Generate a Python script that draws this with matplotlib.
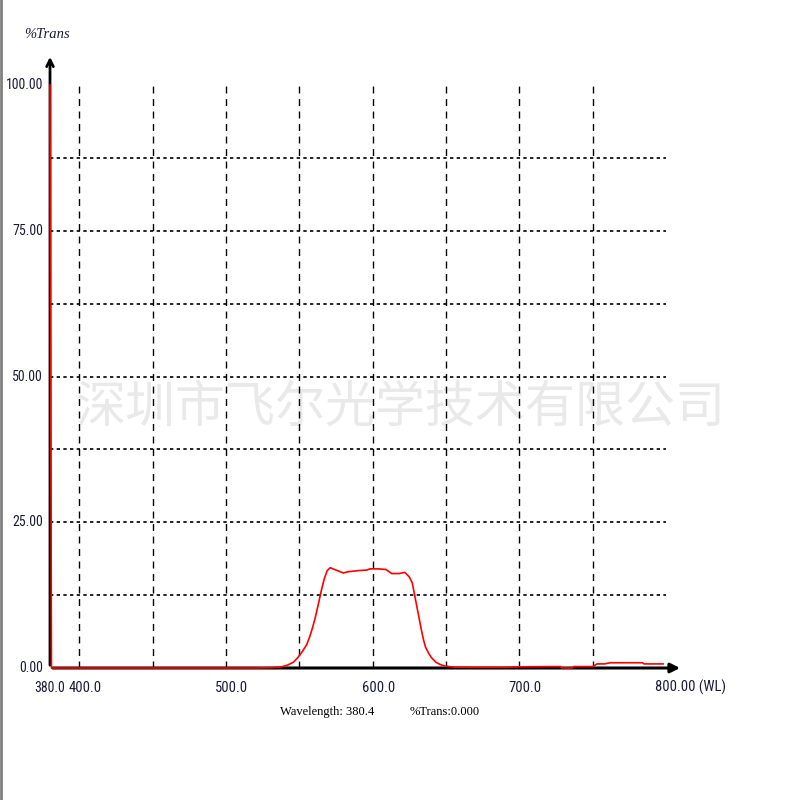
import numpy as np
import matplotlib
matplotlib.use('Agg')
import matplotlib.pyplot as plt
from matplotlib.lines import Line2D

# Curva de transmision
wl = [380, 381, 400, 450, 500, 520, 530, 538, 542, 546, 549, 552, 555, 557, 559, 561,
      563, 565, 567, 569, 571, 575, 580, 583, 590, 596, 598, 604, 609, 613, 618, 622,
      625, 627, 629, 631, 633, 634.5, 636, 638, 640, 643, 646, 649, 655, 670, 690, 700, 720, 728,
      729, 736, 737, 750, 753, 758, 762, 770, 784, 785, 790, 798]
trans = [100, 0, 0, 0, 0, 0, 0.05, 0.2, 0.5, 1.0, 1.8, 2.8, 4.0, 5.3, 6.9, 8.8,
         11.0, 13.3, 15.3, 16.7, 17.2, 16.8, 16.3, 16.5, 16.7, 16.8, 17.0, 17.0, 16.9, 16.2, 16.2, 16.4,
         15.6, 14.6, 12.0, 9.4, 6.8, 5.0, 3.6, 2.6, 1.8, 1.0, 0.6, 0.35, 0.15, 0.1, 0.1, 0.2, 0.25, 0.25,
         0.0, 0.0, 0.25, 0.25, 0.7, 0.7, 0.9, 0.9, 0.9, 0.7, 0.7, 0.7]

xticks = [380, 400, 500, 600, 700, 800]
xticklabels = ['380.0', '400.0', '500.0', '600.0', '700.0', '800.00 (WL)']
yticks = [0, 25, 50, 75, 100]
yticklabels = ['0.00', '25.00', '50.00', '75.00', '100.00']
vgrid = [400, 450, 500, 550, 600, 650, 700, 750]
hgrid = [12.5, 25, 37.5, 50, 62.5, 75, 87.5]

narrow = dict(family=['Roboto Condensed', 'DejaVu Sans'], stretch='condensed')
txtcol = '#1c1c3a'

fig = plt.figure(figsize=(8, 8), dpi=100)
fig.patch.set_facecolor('white')
ax = fig.add_axes([50/800, 1 - 668/800, 616/800, 583/800])
ax.set_facecolor('none')
ax.set_xlim(380, 800)
ax.set_ylim(0, 100)
for s in ax.spines.values():
    s.set_visible(False)
ax.set_xticks([])
ax.set_yticks([])

# marca de agua
ax.text(0.5, 1 - 408/800, '深圳市飞尔光学技术有限公司', transform=fig.transFigure,
        ha='center', va='center', fontsize=36, color='#e9e9e9',
        family=['Noto Sans CJK SC', 'DejaVu Sans'], zorder=0)

# rejilla
for x in vgrid:
    ax.plot([x, x], [0, 100], color='black', lw=1, ls=(0, (5, 4)), zorder=1)
for y in hgrid:
    ax.plot([380, 800], [y, y], color='black', lw=1.2, ls=(0, (2, 2)), zorder=1)

# ejes con flechas
ax.annotate('', xy=(811.5, 0), xytext=(380, 0), annotation_clip=False,
            arrowprops=dict(arrowstyle='-|>', color='black', lw=2.2, mutation_scale=14), zorder=2)
ax.annotate('', xy=(380, 105.3), xytext=(380, 0), annotation_clip=False,
            arrowprops=dict(arrowstyle='->', color='black', lw=2, mutation_scale=12), zorder=2)

ax.plot(wl, trans, color='#ff0000', lw=1.2, zorder=3, clip_on=False)

# etiquetas
for x, lab in zip(xticks, xticklabels):
    if lab.endswith('(WL)'):
        ax.text(x - 7.5, -3.4, lab, ha='left', va='center', fontsize=10.5, color=txtcol, **narrow)
    elif x == 380:
        ax.text(x - 0.5, -3.4, lab, ha='center', va='center', fontsize=10, color=txtcol, **narrow)
    else:
        ax.text(x + 3.8, -3.4, lab, ha='center', va='center', fontsize=10.5, color=txtcol, **narrow)
for y, lab in zip(yticks, yticklabels):
    ax.text(0.054, 1 - (668 - y * 5.83) / 800, lab, transform=fig.transFigure,
            ha='right', va='center', fontsize=10, color=txtcol, **narrow)

fig.text(24/800, 1 - 35/800, '%Trans', fontsize=10.5, style='italic', family='Liberation Serif',
         color=txtcol, ha='left', va='center')
fig.text(280/800, 1 - 712/800, 'Wavelength: 380.4', fontsize=9, color='black',
         ha='left', va='center', family='Liberation Serif')
fig.text(410/800, 1 - 712/800, '%Trans:0.000', fontsize=9, color='black',
         ha='left', va='center', family='Liberation Serif')

fig.add_artist(Line2D([1/800, 1/800], [0, 1], color='#808080', lw=2, transform=fig.transFigure))

fig.savefig('out.png', dpi=100)
